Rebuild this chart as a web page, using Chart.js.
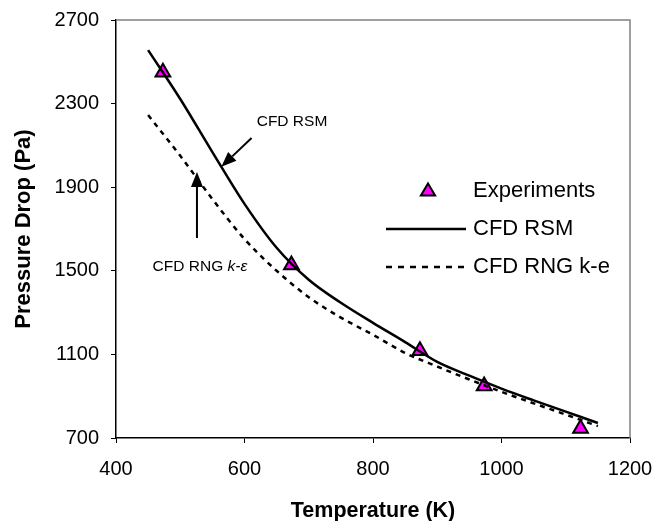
<!DOCTYPE html>
<html>
<head>
<meta charset="utf-8">
<script src="https://cdn.jsdelivr.net/npm/chart.js@4"></script>
<style>
  body { margin: 0; background: #fff; }
  #wrap { width: 654px; height: 521px; }
</style>
</head>
<body>
<div id="wrap"><canvas id="chart" width="654" height="521"></canvas></div>
<script>
// --- DATA ---
const expTemps = [473, 673, 873, 973, 1123];
const expDrop = [2450, 1528, 1118, 949, 746];
const modelTemps = [450, 500, 550, 600, 650, 700, 750, 800, 850, 900, 950, 1000, 1050, 1100, 1150];
const rsmDrop = [2556, 2322, 2068, 1820, 1610, 1457, 1347, 1251, 1159, 1064, 998, 936, 880, 826, 772];
const rngDrop = [2245, 2050, 1843, 1652, 1500, 1374, 1276, 1194, 1107, 1042, 980, 921, 866, 812, 757];
const xTicks = [400, 600, 800, 1000, 1200];
const yTicks = [700, 1100, 1500, 1900, 2300, 2700];
const seriesNames = ['Experiments', 'CFD RSM', 'CFD RNG k-e'];

const FONT = '"Liberation Sans", Arial, sans-serif';

const toPts = (xs, ys) => xs.map((x, i) => ({ x, y: ys[i] }));

// callouts in data units: label position, arrow start, arrow tip
const rsmNote = { text: 'CFD RSM', at: [619, 2212], from: [611, 2135], to: [564, 1998] };
const rngNote = { text: 'CFD RNG ', italic: 'k-ε', at: [457, 1518], from: [526, 1657], to: [526, 1973] };

function arrow(ctx, x1, y1, x2, y2) {
    const ang = Math.atan2(y2 - y1, x2 - x1);
    const len = 15, half = 6;
    const bx = x2 - Math.cos(ang) * len, by = y2 - Math.sin(ang) * len;
    ctx.strokeStyle = '#000';
    ctx.lineWidth = 2;
    ctx.beginPath(); ctx.moveTo(x1, y1); ctx.lineTo(bx, by); ctx.stroke();
    ctx.fillStyle = '#000';
    ctx.beginPath();
    ctx.moveTo(x2, y2);
    ctx.lineTo(bx - Math.sin(ang) * half, by + Math.cos(ang) * half);
    ctx.lineTo(bx + Math.sin(ang) * half, by - Math.cos(ang) * half);
    ctx.closePath(); ctx.fill();
}

const extras = {
    id: 'extras',
    beforeDatasetsDraw(chart) {
        const { ctx, chartArea: a } = chart;
        ctx.save();
        ctx.strokeStyle = '#808080';
        ctx.lineWidth = 1.5;
        ctx.beginPath();
        ctx.moveTo(a.left, a.top); ctx.lineTo(a.right, a.top); ctx.lineTo(a.right, a.bottom);
        ctx.stroke();
        ctx.restore();
    },
    afterDatasetsDraw(chart) {
        const { ctx, chartArea: a } = chart;
        const sx = chart.scales.x, sy = chart.scales.y;
        const px = p => [sx.getPixelForValue(p[0]), sy.getPixelForValue(p[1])];
        ctx.save();

        // callouts
        ctx.fillStyle = '#000';
        ctx.textBaseline = 'middle';
        ctx.font = '15.5px ' + FONT;
        let [tx, ty] = px(rsmNote.at);
        ctx.fillText(rsmNote.text, tx, ty);
        arrow(ctx, ...px(rsmNote.from), ...px(rsmNote.to));

        [tx, ty] = px(rngNote.at);
        ctx.fillText(rngNote.text, tx, ty);
        const w = ctx.measureText(rngNote.text).width;
        ctx.font = 'italic 15.5px ' + FONT;
        ctx.fillText(rngNote.italic, tx + w, ty);
        arrow(ctx, ...px(rngNote.from), ...px(rngNote.to));

        // legend
        const lx = a.left + 270, ly = a.top + 171, gap = 38;
        ctx.font = '22px ' + FONT;
        ctx.fillStyle = '#000';
        ctx.fillText(seriesNames[0], lx + 87, ly);
        ctx.fillText(seriesNames[1], lx + 87, ly + gap);
        ctx.fillText(seriesNames[2], lx + 87, ly + gap * 2);

        // triangle marker
        const mx = lx + 42, r = 7.5;
        ctx.beginPath();
        ctx.moveTo(mx, ly - r);
        ctx.lineTo(mx + r * 0.95, ly + r * 0.6);
        ctx.lineTo(mx - r * 0.95, ly + r * 0.6);
        ctx.closePath();
        ctx.fillStyle = '#ff00ff'; ctx.fill();
        ctx.strokeStyle = '#000'; ctx.lineWidth = 2; ctx.stroke();

        ctx.lineWidth = 2.5;
        ctx.beginPath(); ctx.moveTo(lx, ly + gap); ctx.lineTo(lx + 80, ly + gap); ctx.stroke();
        ctx.setLineDash([6, 6]);
        ctx.beginPath(); ctx.moveTo(lx, ly + gap * 2); ctx.lineTo(lx + 80, ly + gap * 2); ctx.stroke();
        ctx.restore();
    }
};

new Chart(document.getElementById('chart'), {
    type: 'scatter',
    data: {
        datasets: [
            {
                label: seriesNames[1],
                data: toPts(modelTemps, rsmDrop),
                showLine: true,
                borderColor: '#000',
                borderWidth: 2.5,
                pointRadius: 0,
                cubicInterpolationMode: 'monotone'
            },
            {
                label: seriesNames[2],
                data: toPts(modelTemps, rngDrop),
                showLine: true,
                borderColor: '#000',
                borderWidth: 2.5,
                borderDash: [5, 5],
                pointRadius: 0,
                cubicInterpolationMode: 'monotone'
            },
            {
                label: seriesNames[0],
                data: toPts(expTemps, expDrop),
                pointStyle: 'triangle',
                pointRadius: 8.5,
                backgroundColor: '#ff00ff',
                borderColor: '#000',
                borderWidth: 2
            }
        ]
    },
    options: {
        responsive: false,
        animation: false,
        layout: { padding: { top: 20, right: 24, left: 0, bottom: 0 } },
        plugins: { legend: { display: false }, tooltip: { enabled: false } },
        scales: {
            x: {
                type: 'linear',
                min: xTicks[0], max: xTicks[xTicks.length - 1],
                afterBuildTicks: s => { s.ticks = xTicks.map(v => ({ value: v })); },
                afterFit: s => { s.height = 83; s.paddingLeft = 0; s.paddingRight = 0; },
                grid: { drawOnChartArea: false, drawTicks: true, tickLength: 5, color: '#000' },
                border: { color: '#000', width: 1.5 },
                ticks: { color: '#000', font: { family: FONT, size: 20 }, padding: 14, callback: v => String(v) },
                title: { display: true, text: 'Temperature (K)', color: '#000', font: { family: FONT, size: 21.5, weight: 'bold' }, padding: { top: 4, bottom: -3 } }
            },
            y: {
                type: 'linear',
                min: yTicks[0], max: yTicks[yTicks.length - 1],
                afterBuildTicks: s => { s.ticks = yTicks.map(v => ({ value: v })); },
                afterFit: s => { s.width = 116; s.paddingTop = 0; s.paddingBottom = 0; },
                grid: { drawOnChartArea: false, drawTicks: true, tickLength: 5, color: '#000' },
                border: { color: '#000', width: 1.5 },
                ticks: { color: '#000', font: { family: FONT, size: 20 }, padding: 12, callback: v => String(v) },
                title: { display: true, text: 'Pressure Drop (Pa)', color: '#000', font: { family: FONT, size: 22, weight: 'bold' }, padding: { top: 11, bottom: 0 } }
            }
        }
    },
    plugins: [extras]
});
</script>
</body>
</html>
